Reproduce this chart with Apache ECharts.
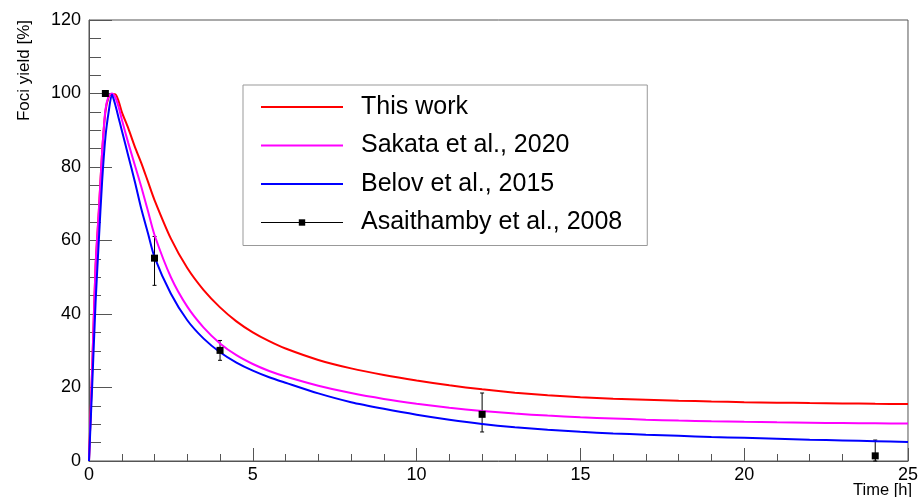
<!DOCTYPE html>
<html>
<head>
<meta charset="utf-8">
<script src="https://cdn.jsdelivr.net/npm/echarts@6/dist/echarts.min.js"></script>
<style>
  html, body { margin: 0; padding: 0; background: #fff; }
  #chart { width: 921px; height: 497px; }
</style>
</head>
<body>
<div id="chart"></div>
<script>
// time grid of the model curves [h]
const hours = [0, 0.1, 0.2, 0.3, 0.4, 0.5, 0.6, 0.7, 0.8, 0.9, 1.0, 1.2, 1.4, 1.6, 1.8, 2.0, 2.5, 3, 3.5, 4, 4.5, 5, 5.5, 6, 7, 8, 9, 10, 11, 12, 13, 14, 15, 16, 17, 18, 19, 20, 21, 22, 23, 24, 25];

// foci yield [%]
const thisWork = [0, 26, 53, 68, 84, 95, 99, 99.8, 99.8, 98, 95, 90.5, 85.5, 81, 76, 71, 60.5, 52.5, 46.5, 41.8, 38.0, 35.0, 32.6, 30.6, 27.5, 25.2, 23.4, 21.9, 20.6, 19.5, 18.6, 17.9, 17.35, 16.95, 16.65, 16.4, 16.2, 16.02, 15.88, 15.76, 15.66, 15.57, 15.5];
const sakata = [0, 26, 53, 68, 84, 95.5, 99.3, 100, 99, 96.5, 93, 86.5, 80.5, 74.5, 68, 61.5, 50, 42, 36.3, 32, 28.8, 26.4, 24.5, 23.0, 20.5, 18.5, 16.9, 15.6, 14.5, 13.6, 12.9, 12.35, 11.9, 11.55, 11.25, 11.0, 10.8, 10.65, 10.52, 10.42, 10.33, 10.26, 10.2];
const belov = [0, 21, 43, 60, 76, 88, 95, 99.7, 97, 93.5, 90, 83, 76, 68.5, 62, 55.5, 45.5, 38.3, 33.3, 29.6, 26.8, 24.6, 22.8, 21.3, 18.4, 16.0, 14.2, 12.6, 11.25, 10.1, 9.2, 8.5, 7.95, 7.5, 7.15, 6.85, 6.55, 6.3, 6.05, 5.8, 5.6, 5.4, 5.2];

// Asaithamby et al., 2008 measurements
const sampleHours = [0.5, 2, 4, 12, 24];
const sampleYield = [100, 55.2, 30.1, 12.7, 1.4];
const errLow = [100, 47.8, 27.4, 7.9, 0];
const errHigh = [100, 61.1, 32.8, 18.5, 5.7];

const seriesNames = ['This work', 'Sakata et al., 2020', 'Belov et al., 2015', 'Asaithamby et al., 2008'];

const font = 'Liberation Sans, Arial, Helvetica, sans-serif';
const frameColor = '#555';

const chart = echarts.init(document.getElementById('chart'));

function curve(values) {
  return hours.map((t, i) => [t, values[i]]);
}

const option = {
  animation: false,
  grid: {
    left: 89,
    right: 9,
    top: 20,
    bottom: 36,
    show: true,
    borderColor: frameColor,
    borderWidth: 1
  },
  legend: {
    orient: 'vertical',
    left: 243,
    top: 85,
    padding: [9, 25, 10, 17],
    borderColor: '#999',
    borderWidth: 1,
    backgroundColor: '#fff',
    itemWidth: 82,
    itemHeight: 8,
    itemGap: 12.5,
    selectedMode: false,
    textStyle: {
      fontFamily: font,
      fontSize: 25,
      lineHeight: 26,
      color: '#000',
      padding: [0, 0, 0, 13]
    },
    data: [
      { name: seriesNames[0], itemStyle: { opacity: 0 } },
      { name: seriesNames[1], itemStyle: { opacity: 0 } },
      { name: seriesNames[2], itemStyle: { opacity: 0 } },
      { name: seriesNames[3], lineStyle: { opacity: 1, width: 1, color: '#000' } }
    ]
  },
  xAxis: {
    type: 'value',
    min: 0,
    max: 25,
    interval: 5,
    axisLine: { lineStyle: { color: frameColor, width: 1 } },
    axisTick: { inside: true, length: 13, lineStyle: { color: frameColor } },
    minorTick: { show: true, splitNumber: 5, length: 7, lineStyle: { color: frameColor } },
    axisLabel: { fontFamily: font, fontSize: 18, color: '#000', margin: 5 },
    splitLine: { show: false }
  },
  yAxis: {
    type: 'value',
    min: 0,
    max: 120,
    interval: 20,
    axisLine: { show: true, lineStyle: { color: frameColor, width: 1 } },
    axisTick: { show: true, inside: true, length: 23, lineStyle: { color: frameColor } },
    minorTick: { show: true, splitNumber: 4, length: 12, lineStyle: { color: frameColor } },
    axisLabel: { fontFamily: font, fontSize: 18, color: '#000', margin: 8 },
    splitLine: { show: false }
  },
  graphic: [
    {
      type: 'text',
      x: 24,
      y: 20,
      rotation: Math.PI / 2,
      style: {
        text: 'Foci yield [%]',
        fontFamily: font,
        fontSize: 17,
        fill: '#000',
        textAlign: 'right',
        textVerticalAlign: 'middle'
      }
    },
    {
      type: 'text',
      x: 912,
      y: 482,
      style: {
        text: 'Time [h]',
        fontFamily: font,
        fontSize: 16.5,
        fill: '#000',
        textAlign: 'right',
        textVerticalAlign: 'top'
      }
    }
  ],
  series: [
    {
      name: seriesNames[0],
      type: 'line',
      data: curve(thisWork),
      symbol: 'none',
      smooth: 0.25,
      lineStyle: { color: '#ff0000', width: 2 },
      itemStyle: { color: '#ff0000' }
    },
    {
      name: seriesNames[1],
      type: 'line',
      data: curve(sakata),
      symbol: 'none',
      smooth: 0.25,
      lineStyle: { color: '#ff00ff', width: 2 },
      itemStyle: { color: '#ff00ff' }
    },
    {
      name: seriesNames[2],
      type: 'line',
      data: curve(belov),
      symbol: 'none',
      smooth: 0.25,
      lineStyle: { color: '#0000ff', width: 2 },
      itemStyle: { color: '#0000ff' }
    },
    {
      name: 'errors',
      type: 'custom',
      data: sampleHours.map((t, i) => [t, errLow[i], errHigh[i]]),
      encode: { x: 0, y: [1, 2] },
      renderItem: (params, api) => {
        const top = api.coord([api.value(0), api.value(2)]);
        const bot = api.coord([api.value(0), api.value(1)]);
        const cap = 2;
        const style = { stroke: '#000', lineWidth: 1 };
        return {
          type: 'group',
          children: [
            { type: 'line', shape: { x1: top[0], y1: top[1], x2: bot[0], y2: bot[1] }, style },
            { type: 'line', shape: { x1: top[0] - cap, y1: top[1], x2: top[0] + cap, y2: top[1] }, style },
            { type: 'line', shape: { x1: bot[0] - cap, y1: bot[1], x2: bot[0] + cap, y2: bot[1] }, style }
          ]
        };
      },
      z: 3
    },
    {
      name: seriesNames[3],
      type: 'line',
      data: sampleHours.map((t, i) => [t, sampleYield[i]]),
      symbol: 'rect',
      symbolSize: 7,
      showSymbol: true,
      lineStyle: { opacity: 0, color: '#000', width: 1 },
      itemStyle: { color: '#000' },
      z: 4
    }
  ]
};

chart.setOption(option);
</script>
</body>
</html>
